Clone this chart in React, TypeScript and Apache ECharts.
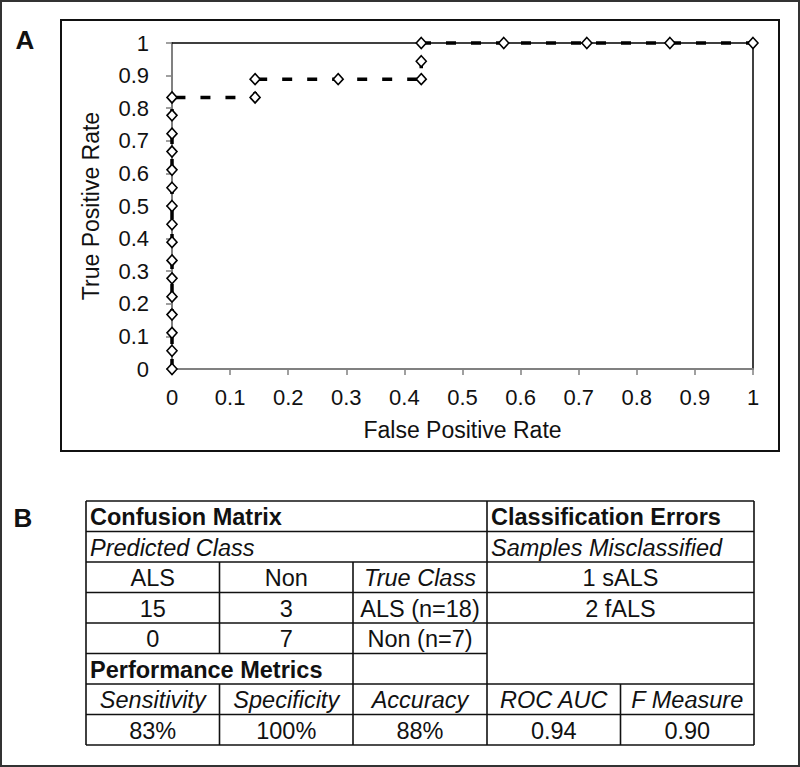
import React, { useEffect, useRef } from "react";
import * as echarts from "echarts";

// ---- ROC curve data (panel A) ----
const fprValues = [
  0, 0, 0, 0, 0, 0, 0, 0, 0, 0, 0, 0, 0, 0, 0, 0,
  0.143, 0.143, 0.286, 0.429, 0.429, 0.429, 0.571, 0.714, 0.857, 1,
];
const tprValues = [
  0, 0.056, 0.111, 0.167, 0.222, 0.278, 0.333, 0.389, 0.444, 0.5, 0.556, 0.611, 0.667, 0.722, 0.778, 0.833,
  0.833, 0.889, 0.889, 0.889, 0.944, 1, 1, 1, 1, 1,
];
const xAxisTitle = "False Positive Rate";
const yAxisTitle = "True Positive Rate";
const panelLabels = ["A", "B"];

// ---- Table data (panel B) ----
const headerRow = ["Confusion Matrix", "Classification Errors"];
const subHeaderRow = ["Predicted Class", "Samples Misclassified"];
const predictedClasses = ["ALS", "Non"];
const trueClassLabel = "True Class";
const trueClasses = ["ALS (n=18)", "Non (n=7)"];
const confusionCounts = [
  ["15", "3"],
  ["0", "7"],
];
const misclassified = ["1 sALS", "2 fALS"];
const metricsTitle = "Performance Metrics";
const metricNames = ["Sensitivity", "Specificity", "Accuracy", "ROC AUC", "F Measure"];
const metricValues = ["83%", "100%", "88%", "0.94", "0.90"];

const FONT = "'Liberation Sans', Arial, Helvetica, sans-serif";

export default function App() {
  const ref = useRef<HTMLDivElement>(null);

  useEffect(() => {
    if (!ref.current) return;
    const chart = echarts.init(ref.current, undefined, { renderer: "svg" });

    const colX = [86, 219.5, 353, 487, 620.5, 754];
    const rowY = [501, 531.5, 562, 592.5, 623, 653.5, 684, 714.5, 745];
    const lineStyle = { stroke: "#111", lineWidth: 1.6 };
    const g: any[] = [];

    const hLine = (y: number, x1: number, x2: number) =>
      g.push({ type: "line", shape: { x1, y1: y, x2, y2: y }, style: lineStyle, z: 10 });
    const vLine = (x: number, y1: number, y2: number) =>
      g.push({ type: "line", shape: { x1: x, y1, x2: x, y2 }, style: lineStyle, z: 10 });
    const rowMid = (r: number) => (rowY[r] + rowY[r + 1]) / 2 + 1;
    const colMid = (c: number) => (colX[c] + colX[c + 1]) / 2;
    const txt = (
      text: string,
      x: number,
      y: number,
      align: string,
      opts: { bold?: boolean; italic?: boolean; size?: number } = {}
    ) =>
      g.push({
        type: "text",
        x,
        y,
        z: 11,
        style: {
          text,
          fill: "#111",
          align,
          verticalAlign: "middle",
          fontFamily: FONT,
          fontSize: opts.size ?? 23.5,
          fontWeight: opts.bold ? "bold" : "normal",
          fontStyle: opts.italic ? "italic" : "normal",
        },
      });

    // outer frame & panel A frame
    g.push({
      type: "rect",
      shape: { x: 1, y: 1, width: 798, height: 765 },
      style: { fill: "none", stroke: "#333", lineWidth: 2 },
      z: 0,
    });
    g.push({
      type: "rect",
      shape: { x: 61, y: 20, width: 718, height: 431 },
      style: { fill: "none", stroke: "#111", lineWidth: 2 },
      z: 0,
    });
    txt(panelLabels[0], 25, 40, "center", { bold: true, size: 26 });
    txt(panelLabels[1], 23, 518, "center", { bold: true, size: 26 });

    // table horizontal lines
    [0, 1, 2, 3, 4, 6, 7, 8].forEach((r) => hLine(rowY[r], colX[0], colX[5]));
    hLine(rowY[5], colX[0], colX[3]);
    // table vertical lines
    vLine(colX[0], rowY[0], rowY[8]);
    vLine(colX[3], rowY[0], rowY[8]);
    vLine(colX[5], rowY[0], rowY[8]);
    vLine(colX[1], rowY[2], rowY[5]);
    vLine(colX[1], rowY[6], rowY[8]);
    vLine(colX[2], rowY[2], rowY[8]);
    vLine(colX[4], rowY[6], rowY[8]);

    // table texts
    txt(headerRow[0], colX[0] + 4, rowMid(0), "left", { bold: true });
    txt(headerRow[1], colX[3] + 4, rowMid(0), "left", { bold: true });
    txt(subHeaderRow[0], colX[0] + 4, rowMid(1), "left", { italic: true });
    txt(subHeaderRow[1], colX[3] + 4, rowMid(1), "left", { italic: true });
    txt(predictedClasses[0], colMid(0), rowMid(2), "center");
    txt(predictedClasses[1], colMid(1), rowMid(2), "center");
    txt(trueClassLabel, colMid(2), rowMid(2), "center", { italic: true });
    txt(misclassified[0], (colX[3] + colX[5]) / 2, rowMid(2), "center");
    confusionCounts.forEach((row, i) => {
      txt(row[0], colMid(0), rowMid(3 + i), "center");
      txt(row[1], colMid(1), rowMid(3 + i), "center");
      txt(trueClasses[i], colMid(2), rowMid(3 + i), "center");
    });
    txt(misclassified[1], (colX[3] + colX[5]) / 2, rowMid(3), "center");
    txt(metricsTitle, colX[0] + 4, rowMid(5), "left", { bold: true });
    metricNames.forEach((m, i) => txt(m, colMid(i), rowMid(6), "center", { italic: true }));
    metricValues.forEach((m, i) => txt(m, colMid(i), rowMid(7), "center"));

    const axisText = { fontFamily: FONT, color: "#111", fontSize: 22 };
    const data = fprValues.map((x, i) => [x, tprValues[i]]);

    chart.setOption({
      animation: false,
      backgroundColor: "#ffffff",
      textStyle: { fontFamily: FONT },
      grid: { left: 172, top: 43, width: 581, height: 326, containLabel: false, outerBoundsMode: "none" },
      xAxis: [
        {
          type: "value",
          min: 0,
          max: 1,
          interval: 0.1,
          position: "bottom",
          name: xAxisTitle,
          nameLocation: "middle",
          nameGap: 49,
          nameTextStyle: { ...axisText, fontSize: 23 },
          axisLine: { show: true, onZero: false, lineStyle: { color: "#808080", width: 2 } },
          axisTick: { show: true, inside: false, length: 6, lineStyle: { color: "#808080", width: 1.5 } },
          axisLabel: { ...axisText, margin: 17 },
          splitLine: { show: false },
        },
        {
          type: "value",
          min: 0,
          max: 1,
          position: "top",
          axisLine: { show: true, onZero: false, lineStyle: { color: "#000", width: 1.5 } },
          axisTick: { show: false },
          axisLabel: { show: false },
          splitLine: { show: false },
        },
      ],
      yAxis: [
        {
          type: "value",
          min: 0,
          max: 1,
          interval: 0.1,
          position: "left",
          name: yAxisTitle,
          nameLocation: "middle",
          nameGap: 70,
          nameTextStyle: { ...axisText, fontSize: 23 },
          axisLine: { show: true, onZero: false, lineStyle: { color: "#808080", width: 2 } },
          axisTick: { show: true, inside: false, length: 6, lineStyle: { color: "#808080", width: 1.5 } },
          axisLabel: { ...axisText, margin: 23 },
          splitLine: { show: false },
        },
        {
          type: "value",
          min: 0,
          max: 1,
          position: "right",
          axisLine: { show: true, onZero: false, lineStyle: { color: "#000", width: 1.5 } },
          axisTick: { show: false },
          axisLabel: { show: false },
          splitLine: { show: false },
        },
      ],
      series: [
        {
          type: "line",
          xAxisIndex: 0,
          yAxisIndex: 0,
          data,
          clip: false,
          symbol: "diamond",
          symbolSize: [10, 11],
          showAllSymbol: true,
          lineStyle: { color: "#000", width: 3.5, type: [10, 15], cap: "butt" },
          itemStyle: { color: "#fff", borderColor: "#000", borderWidth: 1.6 },
          z: 5,
        },
      ],
      graphic: g,
    });

    return () => chart.dispose();
  }, []);

  return (
    <div
      ref={ref}
      style={{ position: "absolute", left: 0, top: 0, width: 800, height: 767, background: "#fff" }}
    />
  );
}
